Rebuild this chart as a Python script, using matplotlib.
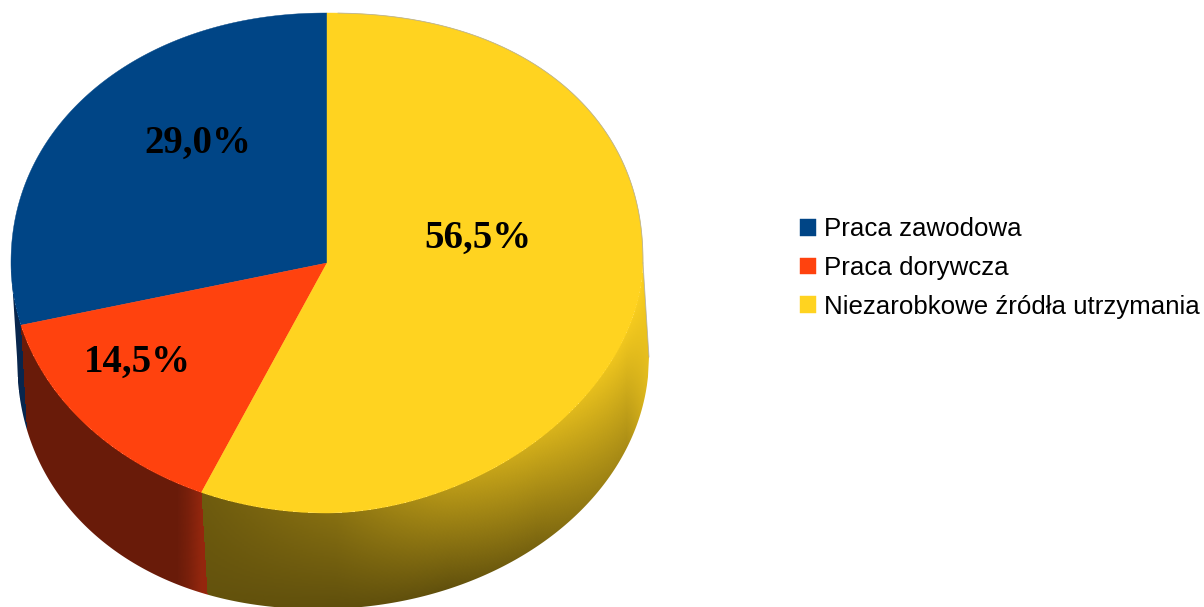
#!/usr/bin/env python3
# pseudo-3D pie: flat slices on top, side wall painted as a shaded mesh underneath
import numpy as np
import matplotlib
matplotlib.use("Agg")
import matplotlib.pyplot as plt
from matplotlib.patches import PathPatch, Polygon
from matplotlib.path import Path

categories = ["Praca zawodowa", "Praca dorywcza", "Niezarobkowe źródła utrzymania"]
values = [29.0, 14.5, 56.5]
colors = ["#004586", "#ff420e", "#ffd320"]

W, H = 1204, 607
CX, CY, RX, RY = 327, 263, 316, 250   # top outline, px
LABEL_POS = [(198, 143), (137, 362), (478, 238)]

def top_edge(th):
    # th = clockwise degrees from 12 o'clock; outline is not a clean ellipse, each quadrant differs
    r = np.radians(th)
    s, c = np.sin(r), np.cos(r)
    n = np.where(c >= 0, np.where(s >= 0, 2.2, 2.08), np.where(s >= 0, 1.85, 2.0))
    k = (np.abs(s)**n + np.abs(c)**n)**(-1/n)
    return CX + RX*s*k, CY - RY*c*k

def bottom_y(x):
    # lower outline of the wall, left side is a bit squarer than right
    u = x - 320.0
    out = np.zeros_like(u)
    right = u >= 0
    out[right] = np.sqrt(np.clip(1 - (u[right]/329.0)**2, 0, 1))
    out[~right] = np.clip(1 - np.abs(u[~right]/303.0)**2.15, 0, 1)**(1/2.15)
    return 357 + 252*out

def shade_yellow(x, v):
    t = (x - 202)/(649 - 202)
    hi = np.interp(t, [0, .3, .55, .75, .95, 1], [.43, .53, .72, .83, .95, 1.0])
    lo = np.interp(t, [0, .3, .55, .75, .95, 1], [.39, .37, .38, .47, .66, .90])
    b = hi + (lo - hi)*v
    return b[..., None]*np.array([1.0, .827, .125])

def shade_orange(x, v):
    b = np.interp(x, [0, 177, 188, 202, 210], [.41, .41, .47, .58, .58])
    return b[..., None]*np.array([1.0, .26, .09])

def shade_blue(x, v):
    return np.ones(x.shape + (3,))*np.array([.03, .15, .30])

fig = plt.figure(figsize=(W/100, H/100), dpi=100)
ax = fig.add_axes([0, 0, 1, 1])
ax.set_xlim(0, W); ax.set_ylim(H, 0); ax.axis("off")

# wall slices, going clockwise from the top like the pie itself
cum = np.cumsum(values[::-1])
walls = [(90, cum[0]*3.6, shade_yellow), (cum[0]*3.6, cum[1]*3.6, shade_orange), (cum[1]*3.6, 270, shade_blue)]
for a, b, fn in walls:
    th = np.linspace(a, b, 500)
    xt, yt = top_edge(th)
    xb = xt + 6
    yb = bottom_y(xb)
    vv = np.linspace(0, 1.04, 80)
    X = xt[:, None] + (xb - xt)[:, None]*vv
    Y = yt[:, None] + (yb - yt)[:, None]*vv
    if a == 90:
        X[0] += 6
    if b == 270:
        X[-1] -= 6
    V = np.tile((vv[:-1] + vv[1:])/2, (len(th) - 1, 1))
    Xc = (X[:-1, :-1] + X[1:, 1:])/2
    ax.pcolormesh(X, Y, np.clip(fn(Xc, V), 0, 1), shading="flat", antialiased=False, linewidth=0, zorder=1)

# white mask with antialiased edge so the mesh outline is not jagged
xu, yu = top_edge(np.linspace(270, 450, 300) % 360)
xl = np.linspace(649, 17, 600)
outline = np.vstack([np.c_[xu, yu], [[649, 357]], np.c_[xl, bottom_y(xl)]])
outline = np.vstack([outline, outline[:1]])
rect = np.array([[-5, -5], [W + 5, -5], [W + 5, H + 5], [-5, H + 5], [-5, -5]])
area = np.sum(outline[:-1, 0]*outline[1:, 1] - outline[1:, 0]*outline[:-1, 1])
if area > 0:
    outline = outline[::-1]
verts = np.vstack([rect, outline])
codes = [Path.MOVETO] + [Path.LINETO]*(len(rect) - 1) + [Path.MOVETO] + [Path.LINETO]*(len(outline) - 1)
ax.add_patch(PathPatch(Path(verts, codes), fc="white", ec="none", zorder=2))

# flat top slices; blue starts at 12 o'clock and runs counter-clockwise
handles = []
start = 360.0
for v, c in zip(values, colors):
    end = start - v*3.6
    xs, ys = top_edge(np.linspace(start, end, 300) % 360)
    pts = np.vstack([[[CX, CY]], np.c_[xs, ys]])
    p = Polygon(pts, closed=True, fc=c, ec=c, lw=0.3, zorder=3)
    ax.add_patch(p)
    handles.append(p)
    start = end

# thin grey rim on the upper right
xr, yr = top_edge(np.linspace(2, 90, 200))
ax.plot(xr, yr, color="#a8a8a8", lw=0.6, alpha=.8, zorder=4)
ax.plot([643, 649], [263, 357], color="#a8a8a8", lw=0.6, alpha=.8, zorder=4)

for v, (px, py) in zip(values, LABEL_POS):
    ax.text(px, py, f"{v:.1f}%".replace(".", ","), ha="center", va="center", zorder=5,
            fontsize=28, fontweight="bold", family="Liberation Serif", color="black")

ax.legend(handles, categories, loc="center left", bbox_to_anchor=(800/W, 1 - 268/H),
          frameon=False, prop={"family": "Liberation Sans", "size": 18.6},
          handlelength=0.62, handleheight=0.62, handletextpad=0.31,
          labelspacing=0.57, borderpad=0, borderaxespad=0)

fig.savefig("out.png", dpi=100)
